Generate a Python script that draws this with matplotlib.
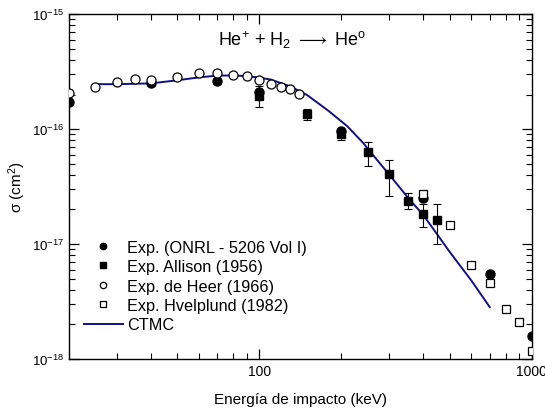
import numpy as np
import matplotlib.pyplot as plt
from matplotlib.ticker import LogLocator, NullFormatter, FixedLocator, FixedFormatter

plt.rcParams['font.family'] = ['Liberation Sans', 'DejaVu Sans']
plt.rcParams['mathtext.fontset'] = 'custom'
plt.rcParams['mathtext.rm'] = 'Liberation Sans'
plt.rcParams['mathtext.it'] = 'Liberation Sans:italic'
plt.rcParams['axes.unicode_minus'] = False

# Exp. (ONRL - 5206 Vol I)
onrl_E = [20, 40, 70, 100, 200, 400, 700, 1000]
onrl_s = [1.72e-16, 2.51e-16, 2.61e-16, 2.1e-16, 0.97e-16, 2.51e-17, 5.5e-18, 1.58e-18]

# Exp. Allison (1956)
alli_E = [100, 150, 200, 250, 300, 350, 400, 450]
alli_s = [1.95e-16, 1.35e-16, 0.9e-16, 6.3e-17, 4.07e-17, 2.37e-17, 1.82e-17, 1.62e-17]
alli_up = [2.37e-16, 1.49e-16, 1.0e-16, 7.7e-17, 5.37e-17, 2.8e-17, 2.24e-17, 2.24e-17]
alli_lo = [1.55e-16, 1.2e-16, 0.8e-16, 4.77e-17, 2.62e-17, 2.0e-17, 1.4e-17, 1.0e-17]

# Exp. de Heer (1966)
heer_E = [20, 25, 30, 35, 40, 50, 60, 70, 80, 90, 100, 110, 120, 130, 140]
heer_s = [2.06e-16, 2.32e-16, 2.56e-16, 2.72e-16, 2.66e-16, 2.83e-16, 3.07e-16,
          3.07e-16, 2.95e-16, 2.89e-16, 2.66e-16, 2.46e-16, 2.32e-16, 2.22e-16, 2.04e-16]

# Exp. Hvelplund (1982)
hvel_E = [400, 500, 600, 700, 800, 900, 1000]
hvel_s = [2.72e-17, 1.46e-17, 6.6e-18, 4.57e-18, 2.73e-18, 2.1e-18, 1.17e-18]

# CTMC
ctmc_E = [25, 30, 40, 50, 60, 70, 80, 90, 100, 110, 130, 150, 180, 210, 240, 270,
          300, 350, 400, 500, 600, 700]
ctmc_s = [2.46e-16, 2.46e-16, 2.5e-16, 2.66e-16, 2.82e-16, 2.92e-16, 2.93e-16, 2.89e-16,
          2.8e-16, 2.7e-16, 2.35e-16, 1.97e-16, 1.43e-16, 1.06e-16, 7.6e-17, 5.4e-17,
          4.0e-17, 2.55e-17, 1.78e-17, 8.5e-18, 4.8e-18, 2.83e-18]

fig = plt.figure(figsize=(5.45, 4.10), dpi=100)
ax = fig.add_axes([0.1266, 0.122, 0.8494, 0.841])

ax.plot(ctmc_E, ctmc_s, '-', color='#10108a', lw=1.4, label='CTMC', zorder=2)

s = np.array(alli_s)
yerr = [s - np.array(alli_lo), np.array(alli_up) - s]
ax.errorbar(alli_E, alli_s, yerr=yerr, fmt='none', ecolor='black', elinewidth=0.8,
            capsize=3, capthick=0.8, zorder=3)
ax.plot(onrl_E, onrl_s, 'o', color='black', ms=6.5, ls='none', zorder=4,
        label='Exp. (ONRL - 5206 Vol I)')
ax.plot(alli_E, alli_s, 's', color='black', ms=5.5, ls='none', zorder=4,
        label='Exp. Allison (1956)')
ax.plot(heer_E, heer_s, 'o', mfc='white', mec='black', mew=0.9, ms=6.5, ls='none', zorder=4,
        label='Exp. de Heer (1966)')
ax.plot(hvel_E, hvel_s, 's', mfc='white', mec='black', mew=0.9, ms=5.5, ls='none', zorder=4,
        label='Exp. Hvelplund (1982)')

ax.set_xscale('log')
ax.set_yscale('log')
ax.set_xlim(20, 1000)
ax.set_ylim(1e-18, 1e-15)

ax.xaxis.set_major_locator(FixedLocator([100, 1000]))
ax.xaxis.set_major_formatter(FixedFormatter(['100', '1000']))
ax.xaxis.set_minor_locator(LogLocator(base=10, subs=np.arange(2, 10)))
ax.xaxis.set_minor_formatter(NullFormatter())
ax.yaxis.set_major_locator(FixedLocator([1e-18, 1e-17, 1e-16, 1e-15]))
ax.yaxis.set_major_formatter(FixedFormatter([r'$10^{\mathregular{-18}}$', r'$10^{\mathregular{-17}}$',
                                             r'$10^{\mathregular{-16}}$', r'$10^{\mathregular{-15}}$']))
ax.yaxis.set_minor_locator(LogLocator(base=10, subs=np.arange(2, 10), numticks=10))
ax.yaxis.set_minor_formatter(NullFormatter())

ax.tick_params(which='both', direction='in', top=True, right=True, labelsize=10)
ax.tick_params(axis='y', labelsize=9.5)
ax.tick_params(which='major', length=7, width=0.9)
ax.tick_params(which='minor', length=4, width=0.8)
for sp in ax.spines.values():
    sp.set_linewidth(1.0)

ax.set_xlabel('Energía de impacto (keV)', fontsize=11, labelpad=10)
ax.set_ylabel(r'σ (cm$^{2}$)', fontsize=11)
ax.yaxis.set_label_coords(-0.088, 0.5)

ax.text(0.482, 0.928, r'He$^{+}$ + H$_{2}$ $\longrightarrow$ He$^{\mathrm{o}}$', transform=ax.transAxes,
        ha='center', va='center', fontsize=13)

h, l = ax.get_legend_handles_labels()
order = [1, 2, 3, 4, 0]
leg = ax.legend([h[i] for i in order], [l[i] for i in order], loc='lower left',
                bbox_to_anchor=(0.0, 0.035), frameon=False, fontsize=11.7,
                handlelength=2.4, handletextpad=0.3, labelspacing=0.27, markerscale=0.7)

fig.savefig('out.png', dpi=100)
